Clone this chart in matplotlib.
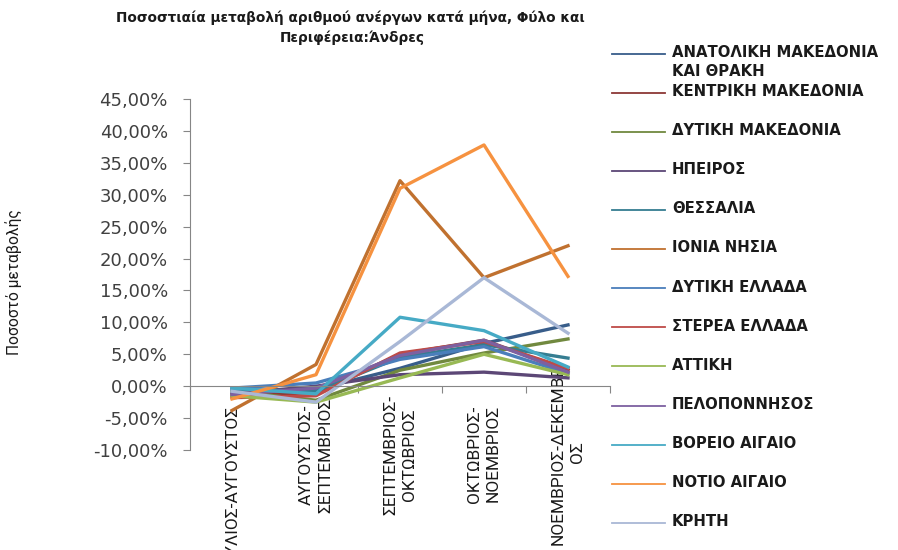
import matplotlib
matplotlib.use("Agg")
import matplotlib.pyplot as plt
from matplotlib.lines import Line2D
from matplotlib.ticker import FuncFormatter, FixedLocator

categories = ["ΙΟΥΛΙΟΣ-ΑΥΓΟΥΣΤΟΣ", "ΑΥΓΟΥΣΤΟΣ-\nΣΕΠΤΕΜΒΡΙΟΣ", "ΣΕΠΤΕΜΒΡΙΟΣ-\nΟΚΤΩΒΡΙΟΣ",
              "ΟΚΤΩΒΡΙΟΣ-\nΝΟΕΜΒΡΙΟΣ", "ΝΟΕΜΒΡΙΟΣ-ΔΕΚΕΜΒΡΙ\nΟΣ"]

regions = ["ΑΝΑΤΟΛΙΚΗ ΜΑΚΕΔΟΝΙΑ\nΚΑΙ ΘΡΑΚΗ", "ΚΕΝΤΡΙΚΗ ΜΑΚΕΔΟΝΙΑ", "ΔΥΤΙΚΗ ΜΑΚΕΔΟΝΙΑ",
           "ΗΠΕΙΡΟΣ", "ΘΕΣΣΑΛΙΑ", "ΙΟΝΙΑ ΝΗΣΙΑ", "ΔΥΤΙΚΗ ΕΛΛΑΔΑ", "ΣΤΕΡΕΑ ΕΛΛΑΔΑ",
           "ΑΤΤΙΚΗ", "ΠΕΛΟΠΟΝΝΗΣΟΣ", "ΒΟΡΕΙΟ ΑΙΓΑΙΟ", "ΝΟΤΙΟ ΑΙΓΑΙΟ", "ΚΡΗΤΗ"]

# percentage change per region (%)
anat_makedonia = [-1.0, -0.5, 2.8, 6.7, 9.6]
kentr_makedonia = [-1.5, -1.0, 5.0, 7.2, 2.5]
dyt_makedonia = [-0.8, -2.2, 2.5, 5.2, 7.4]
ipeiros = [-1.2, 0.0, 1.8, 2.2, 1.3]
thessalia = [-0.5, -0.8, 4.5, 6.5, 4.4]
ionia = [-3.8, 3.4, 32.2, 17.0, 22.0]
dyt_ellada = [-0.3, 0.5, 4.2, 6.2, 2.0]
sterea = [-1.8, -1.5, 5.2, 7.0, 2.8]
attiki = [-1.5, -2.5, 1.3, 5.0, 1.8]
peloponnisos = [-1.3, -0.3, 4.8, 7.2, 2.2]
voreio_aigaio = [-0.3, -1.2, 10.8, 8.7, 3.0]
notio_aigaio = [-2.0, 1.8, 31.0, 37.8, 17.2]
kriti = [-0.8, -2.5, 7.0, 17.0, 8.3]

series = [anat_makedonia, kentr_makedonia, dyt_makedonia, ipeiros, thessalia, ionia,
          dyt_ellada, sterea, attiki, peloponnisos, voreio_aigaio, notio_aigaio, kriti]

colors = ["#385D8A", "#8C3836", "#71893F", "#5C4776", "#357D91", "#C0712F",
          "#4A7EBB", "#BE4B48", "#98B954", "#7D60A0", "#46AAC5", "#F69240", "#A9B8D6"]

yticks = [-10, -5, 0, 5, 10, 15, 20, 25, 30, 35, 40, 45]

narrow = ["Roboto", "DejaVu Sans"]

W, H = 898, 550
fig = plt.figure(figsize=(W / 100, H / 100), dpi=100)
ax = fig.add_axes([190 / W, (H - 450) / H, 420 / W, 351 / H])

x = list(range(len(categories)))
for vals, c in zip(series, colors):
    ax.plot(x, vals, color=c, lw=2.4, solid_joinstyle="round")

ax.set_xlim(-0.5, len(categories) - 0.5)
ax.set_ylim(-10, 45)
ax.set_yticks(yticks)
ax.yaxis.set_major_formatter(FuncFormatter(lambda v, p: f"{v:.2f}%".replace(".", ",")))
ax.tick_params(axis="y", length=5, width=0.8, color="#868686", pad=11,
               labelsize=13, labelcolor="#404040")

for s in ["top", "right"]:
    ax.spines[s].set_visible(False)
ax.spines["left"].set_color("#868686")
ax.spines["bottom"].set_color("#868686")
ax.spines["bottom"].set_position(("data", 0))

ax.set_xticks(x)
ax.set_xticklabels(categories, rotation=90, ha="center", va="center",
                   family=narrow, fontsize=12.5, color="#1a1a1a", linespacing=1.35)
ax.xaxis.set_minor_locator(FixedLocator([i - 0.5 for i in range(len(categories) + 1)]))
ax.tick_params(axis="x", which="major", length=0, pad=0)
ax.tick_params(axis="x", which="minor", length=5, width=0.8, color="#868686", direction="out")
label_y = [-15.8, -10.8, -10.8, -10.6, -10.4]
for lab, yy in zip(ax.get_xticklabels(), label_y):
    lab.set_y(yy)

ax.set_ylabel("Ποσοστό μεταβολής", family=narrow, fontsize=11.2, color="#1a1a1a")
ax.yaxis.set_label_coords((22 - 190) / 420, (450 - 282) / 351)

fig.text(350 / W, 1 - 18 / H, "Ποσοστιαία μεταβολή αριθμού ανέργων κατά μήνα, Φύλο και",
         ha="center", va="center", fontsize=9.8, fontweight="bold", color="#1a1a1a")
fig.text(352 / W, 1 - 38 / H, "Περιφέρεια:Άνδρες",
         ha="center", va="center", fontsize=9.8, fontweight="bold", color="#1a1a1a")

# legend (manual layout)
for i, (name, c) in enumerate(zip(regions, colors)):
    yy = 54 + 39.06 * i
    fig.add_artist(Line2D([612 / W, 665 / W], [1 - yy / H, 1 - yy / H], color=c, lw=1.3,
                          transform=fig.transFigure))
    fig.text(672 / W, 1 - (yy - 8.8) / H, name, ha="left", va="top", fontsize=10.7,
             fontweight="bold", color="#1a1a1a", linespacing=1.3)

fig.savefig("out.png", dpi=100)
